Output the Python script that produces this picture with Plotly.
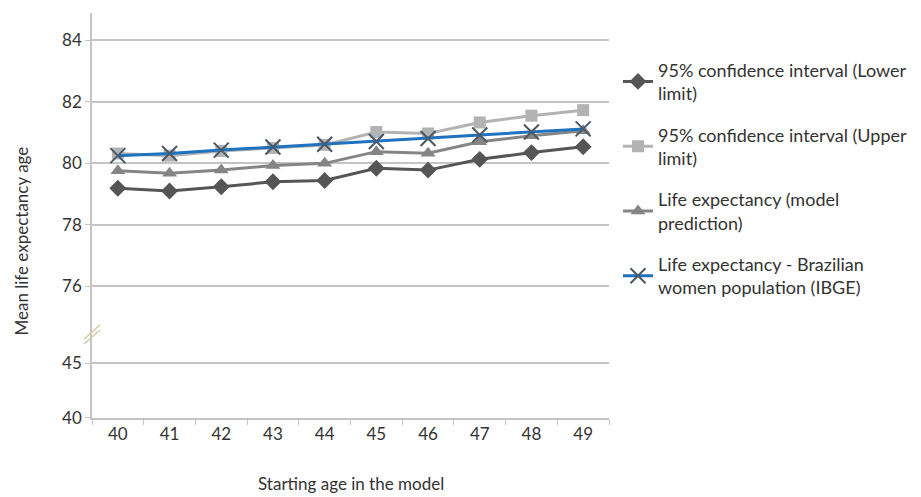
import plotly.graph_objects as go

ages = ["40", "41", "42", "43", "44", "45", "46", "47", "48", "49"]
lower_limit = [79.19, 79.10, 79.24, 79.40, 79.44, 79.84, 79.78, 80.13, 80.35, 80.54]
upper_limit = [80.32, 80.25, 80.40, 80.50, 80.60, 81.02, 80.97, 81.33, 81.55, 81.73]
model_pred = [79.76, 79.68, 79.78, 79.93, 80.00, 80.38, 80.33, 80.70, 80.90, 81.06]
ibge = [80.25, 80.32, 80.43, 80.53, 80.62, 80.71, 80.81, 80.92, 81.02, 81.12]

names = [
    "95% confidence interval (Lower<br>limit)",
    "95% confidence interval (Upper<br>limit)",
    "Life expectancy (model<br>prediction)",
    "Life expectancy - Brazilian<br>women population (IBGE)",
]

FONT = "Lato"
TXT = "#333333"
GRID = "#c4c4c4"

fig = go.Figure()
fig.add_trace(go.Scatter(x=ages, y=lower_limit, name=names[0], mode="lines+markers",
                         legendgroup="a",
                         line=dict(color="#555555", width=3),
                         marker=dict(symbol="diamond", size=13, color="#555555"),
                         xaxis="x2", yaxis="y"))
fig.add_trace(go.Scatter(x=ages, y=upper_limit, name=names[1], mode="lines+markers",
                         legendgroup="b",
                         line=dict(color="#b3b3b3", width=3),
                         marker=dict(symbol="square", size=12, color="#b3b3b3"),
                         xaxis="x2", yaxis="y"))
fig.add_trace(go.Scatter(x=ages, y=model_pred, name=names[2], mode="lines+markers",
                         legendgroup="c",
                         line=dict(color="#858585", width=3),
                         marker=dict(symbol="triangle-up", size=13, color="#858585"),
                         xaxis="x2", yaxis="y"))
fig.add_trace(go.Scatter(x=ages, y=ibge, name=names[3], mode="lines+markers",
                         legendgroup="d",
                         line=dict(color="#1f72bf", width=3),
                         marker=dict(symbol="x-thin", size=15,
                                     line=dict(color="#4a5866", width=2)),
                         xaxis="x2", yaxis="y"))
# registers the lower (broken) axis segment; draws nothing visible
fig.add_trace(go.Scatter(x=ages, y=ibge, mode="none", showlegend=False,
                         hoverinfo="skip", xaxis="x", yaxis="y2"))

split = 0.2049
fig.update_layout(
    width=913, height=489,
    margin=dict(l=84, r=312, t=5, b=79),
    paper_bgcolor="white", plot_bgcolor="white",
    font=dict(family=FONT, size=17, color=TXT),
    showlegend=True,
    legend=dict(x=1.0174, y=0.905, xanchor="left", yanchor="top",
                font=dict(family=FONT, size=18, color=TXT),
                tracegroupgap=15, itemwidth=30),
    xaxis=dict(type="category", categoryarray=ages, range=[-0.5, 9.5], anchor="y2",
               showline=True, linecolor=GRID, linewidth=1.5,
               ticks="outside", tickson="boundaries", ticklen=5, tickcolor=GRID,
               showgrid=False, tickfont=dict(size=17, color=TXT)),
    xaxis2=dict(type="category", categoryarray=ages, range=[-0.5, 9.5], anchor="y",
                matches="x", visible=False, showgrid=False),
    yaxis=dict(domain=[split, 1], range=[74.416, 84.89], anchor="x2",
               tickvals=[76, 78, 80, 82, 84], showgrid=True, gridcolor=GRID, gridwidth=1.5,
               showline=True, linecolor=GRID, linewidth=1.5, zeroline=False,
               ticks="outside", ticklen=5, tickcolor=GRID,
               tickfont=dict(size=17, color=TXT)),
    yaxis2=dict(domain=[0, split], range=[40, 47.545], anchor="x",
                tickvals=[40, 45], showgrid=True, gridcolor=GRID, gridwidth=1.5,
                showline=True, linecolor=GRID, linewidth=1.5, zeroline=False,
                ticks="outside", ticklen=5, tickcolor=GRID,
                tickfont=dict(size=17, color=TXT)),
)

# axis titles
fig.add_annotation(text="Starting age in the model", xref="paper", yref="paper",
                   x=0.5, y=0, yshift=-65, showarrow=False, yanchor="middle",
                   font=dict(family=FONT, size=17, color=TXT))
fig.add_annotation(text="Mean life expectancy age", xref="paper", yref="paper",
                   x=0, xshift=-83, y=0.437, textangle=-90, showarrow=False,
                   font=dict(family=FONT, size=17, color=TXT))

# axis break marks
for dy in (0, 5):
    fig.add_shape(type="line", xref="paper", yref="paper",
                  xsizemode="pixel", ysizemode="pixel", xanchor=0, yanchor=split,
                  x0=-8, x1=8, y0=-9 + dy, y1=5 + dy,
                  line=dict(color="#cfc9a8", width=1.5))

fig.write_html("out.html")
